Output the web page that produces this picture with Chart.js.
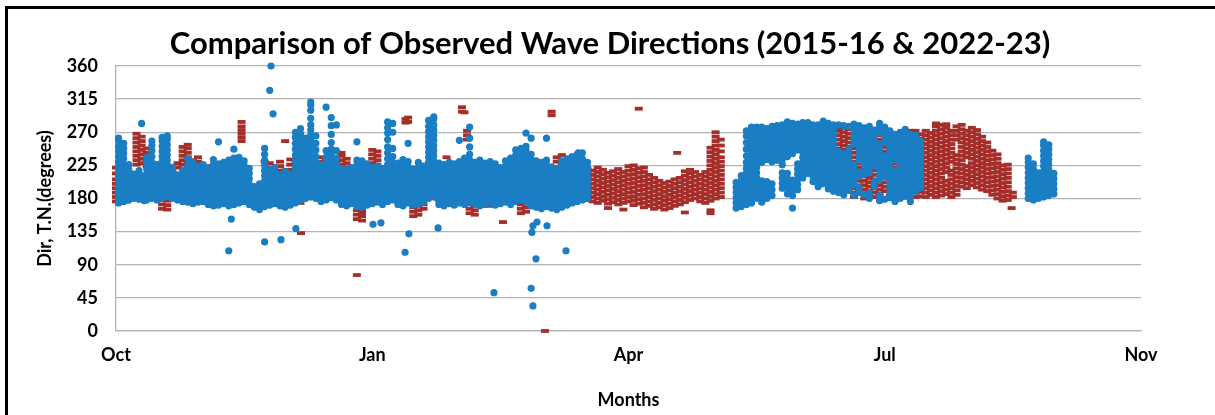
<!DOCTYPE html>
<html>
<head>
<meta charset="utf-8">
<title>Comparison of Observed Wave Directions</title>
<script src="https://cdn.jsdelivr.net/npm/chart.js@4.4.1/dist/chart.umd.min.js"></script>
<style>
  html, body { margin: 0; padding: 0; background: #ffffff; }
  #wrap { position: relative; width: 1215px; height: 415px; overflow: hidden; }
  #frame { position: absolute; left: 5px; top: 6px; right: -10px; bottom: -10px;
           border-top: 3px solid #000; border-left: 3px solid #000; pointer-events: none; }
</style>
</head>
<body>
<div id="wrap">
  <canvas id="chart" width="1215" height="415"></canvas>
  <div id="frame"></div>
</div>
<script>
// Wave direction observations (degrees True North).
// x = day of the season counted from the start of October, y = direction.
// Each column entry is [day, dir, dir, ...].

const TITLE = 'Comparison of Observed Wave Directions (2015-16 & 2022-23)';
const monthTicks = ['Oct', 'Jan', 'Apr', 'Jul', 'Nov'];
const dirTicks = [0, 45, 90, 135, 180, 225, 270, 315, 360];

// ---- 2022-23 (blue) ----
const blueAutumn = [
  [1, 174,181,188,195,202,209,216,223,230,237,244,251,258,262],
  [3, 176,183,190,197,204,211,218,226,234,241,248,255],
  [5, 178,184,191,198,205,212,219,226],
  [7, 180,186,193,200,207,213],
  [9, 179,185,192,199,206,212,218],
  [11, 177,184,191,198,205,211],
  [12, 178,185,192,199,206,213,220,228,236],
  [14, 180,186,193,200,207,214,221,229,237,245,252,258],
  [16, 178,184,191,198,205,212,219,226],
  [18, 181,188,195,202,209,216,223,230,237,244,251,258,263],
  [20, 183,190,197,204,211,218,225,232,239,246,253,260,265],
  [22, 180,187,194,201,208,215,222],
  [24, 178,185,192,199,206,212],
  [26, 176,183,190,197,204,211,218],
  [28, 175,182,189,196,203,210,217,225,234],
  [30, 173,180,187,194,201,208,215,222,229],
  [32, 175,182,189,196,203,210,217,224],
  [34, 176,183,190,197,204,211,218,226],
  [36, 172,179,186,193,200,207,214,221],
  [38, 170,177,184,191,198,205,212,219,226,233],
  [40, 171,178,185,192,199,206,213,220,227,257],
  [42, 173,180,187,194,201,208,215,222,229],
  [44, 170,176,183,190,197,204,211,218,225,232],
  [46, 172,179,186,193,200,207,214,221,228,235,247],
  [48, 174,181,188,195,202,209,216,223,230,236],
  [50, 176,183,190,197,204,211,218,225,231],
  [52, 172,179,186,193,200,207,214,221],
  [54, 168,175,182,189,196],
  [56, 165,172,179,186,193,200],
  [58, 169,176,183,190,197,204,211,218,225,232,240,248],
  [60, 171,178,185,192,199,206,213,220],
  [62, 173,180,187,194,201,208,215,222],
  [64, 170,177,184,191,198,205,212],
  [66, 168,175,182,189,196,203,210,217],
  [68, 171,178,185,192,199,206,213],
  [70, 174,181,188,195,202,209,216,223,231,239,247,255,263,270],
  [72, 178,185,192,199,206,213,220,228,236,244,252,260,268,275],
  [74, 180,187,194,201,208,215,222,230,238,246,254,262],
  [76, 182,189,196,203,210,217,224,231,238,245,252,259,266,273,280,289,300,307,311],
  [78, 180,187,194,201,208,215,222,229,237,246,255,265],
  [80, 176,183,190,197,204,211,218,226],
  [82, 178,185,192,199,206,213,220,228,236,245,304],
  [84, 181,188,195,202,209,216,223,231,239,247,256,267,279,290],
  [86, 178,185,192,199,206,213,220,227,235,245,280],
  [88, 172,179,186,193,200,207,214,221],
  [90, 170,177,184,191,198,205,212,219],
  [92, 173,180,187,194,201,208,215,222],
  [94, 169,176,183,190,197,204,211,218,225,232,257],
  [96, 168,175,182,189,196,203,210,217,224,231],
  [98, 171,178,185,192,199,206,213,220,227],
  [100, 173,180,187,194,201,208,215,222],
  [102, 175,182,189,196,203,210,217,224],
  [104, 172,179,186,193,200,207,214,221],
  [106, 176,183,190,197,204,211,218,226,234,242,250,260,269,276,284],
  [108, 178,185,192,199,206,213,220,228,237,248,270,282],
  [110, 172,179,186,193,200,207,214,221,228],
  [112, 170,177,184,191,198,205,212,219,226,233],
  [114, 174,181,188,195,202,209,216,223,230,255],
  [116, 171,178,185,192,199,206,213,220],
  [118, 173,180,187,194,201,208,215,222,229],
  [120, 175,182,189,196,203,210,217,224],
  [122, 180,187,194,201,208,215,222,229,236,243,250,257,264,271,278,286],
  [124, 182,189,196,203,210,217,224,231,238,245,252,259,266,273,280,288,291],
  [126, 172,179,186,193,200,207,214,221,228],
  [128, 170,177,184,191,198,205,212,219,226],
  [130, 173,180,187,194,201,208,215,222,229],
  [132, 171,178,185,192,199,206,213,220,227],
  [134, 174,181,188,195,202,209,216,223,230,259],
  [136, 172,179,186,193,200,207,214,221,228,235],
  [138, 175,182,189,196,203,210,217,224,232,240,250,262,277],
  [140, 173,180,187,194,201,208,215,222,229],
  [142, 170,177,184,191,198,205,212,219,226,232],
  [144, 172,179,186,193,200,207,214,221,228],
  [146, 174,181,188,195,202,209,216,223,230],
  [148, 171,178,185,192,199,206,213,220,227],
  [150, 173,180,187,194,201,208,215,222],
  [152, 175,182,189,196,203,210,217,224,231],
  [154, 172,179,186,193,200,207,214,221,228,235],
  [156, 176,183,190,197,204,211,218,225,232,239,246],
  [158, 178,185,192,199,206,213,220,227,234,241,248],
  [160, 175,182,189,196,203,210,217,224,231,238,245,251,269],
  [162, 170,177,184,191,198,205,212,219,226,233,240,262],
  [164, 168,175,182,189,196,203,210,217,224,231],
  [166, 166,173,180,187,194,201,208,215,222,229],
  [168, 169,176,183,190,197,204,211,218,225,232,262],
  [170, 167,174,181,188,195,202,209,216,223],
  [172, 165,172,179,186,193,200,207,214,221],
  [174, 168,175,182,189,196,203,210,217,224,231],
  [176, 171,178,185,192,199,206,213,220,227,234],
  [178, 174,181,188,195,202,209,216,223,230,237],
  [180, 176,183,190,197,204,211,218,225,232,240],
  [182, 178,185,192,199,206,213,220,227,234,242],
  [184, 180,187,194,201,208,215,222,229]
];

const blueSummer = [
  [242, 167,174,181,188,195,202],
  [244, 169,176,183,190,197,204,211],
  [246, 172,179,186,193,200,207,214,221,229,238,247,256,265,272],
  [248, 174,181,188,195,202,209,216,223,230,237,244,251,258,265,272,277],
  [250, 180,187,194,201,208,215,222,229,236,243,250,257,264,271,277],
  [252, 175,183,190,197,204,229,236,243,250,257,264,271,277],
  [254, 180,188,196,203,233,240,247,254,261,268,275],
  [256, 184,192,200,230,237,244,251,258,265,272,278],
  [258, 232,239,246,253,260,267,274,279],
  [260, 194,201,208,215,226,233,240,247,254,261,268,275,280],
  [262, 186,193,200,207,214,237,244,251,258,265,272,279,284],
  [264, 167,184,191,198,205,241,248,255,262,269,276,282],
  [266, 192,199,206,213,220,227,246,253,260,267,274,281],
  [268, 208,215,222,229,236,243,250,257,264,271,278,283],
  [270, 214,221,228,235,242,249,256,263,270,277,283],
  [272, 203,210,217,224,231,238,245,252,259,266,273,280],
  [274, 196,203,210,217,224,231,238,245,252,259,266,273,280],
  [276, 200,207,214,221,228,235,242,249,256,263,270,277,285],
  [278, 193,200,207,214,221,228,235,242,249,256,263,270,277,282],
  [280, 190,197,204,211,218,225,232,239,246,253,260,267,274,280],
  [282, 188,195,202,209,216,223,230,237,244,280],
  [284, 185,192,199,206,213,220,227,234,241,279],
  [286, 191,198,205,212,219,226,233,240,247,278],
  [288, 184,198,205,212,219,226,254,261,268,275,281],
  [290, 188,195,210,216,232,239,246,253,260,267,274,279],
  [292, 185,213,220,227,234,241,248,255,262,269,276],
  [294, 180,187,215,222,229,236,243,250,257,264,271,278],
  [296, 196,203,224,231,238,245,252,259,266,273],
  [298, 177,184,205,212,219,226,233,240,247,254,270,277,282],
  [300, 179,210,217,224,231,238,256,263,270,277],
  [302, 181,188,195,202,209,216,223,230,237,244,251,258,265,272],
  [304, 176,183,190,197,204,211,218,232,239,246,253,260,267],
  [306, 180,187,194,201,208,215,222,229,236,243,250,257,264,270],
  [308, 183,190,197,204,211,218,225,232,239,246,253,260,267,274],
  [310, 176,183,190,197,204,211,218,225,232,239,246,253,260,267],
  [312, 190,197,204,211,218,225,232,239,246,253,260,266],
  [314, 195,202,209,216,223,230,237,244,251,258]
];

const blueLate = [
  [356, 180,187,194,201,208,215,222,229,235],
  [358, 178,185,192,199,206,213,220,227],
  [360, 180,187,194,201,208,215],
  [362, 182,189,196,203,210,217,224,231,238,245,252,257],
  [364, 184,191,198,205,212,219,226,233,240,247,253],
  [366, 186,193,200,207,214]
];

const blueStray = [
  [10, 282], [44, 109], [45, 152], [58, 121], [60, 327], [60.5, 360], [61.3, 295],
  [64.4, 124], [70.2, 139], [100.3, 145], [103.4, 147], [112.8, 107], [114.3, 132],
  [125.7, 140], [147.5, 52], [162, 58], [162.3, 134], [162.7, 143], [162.7, 34],
  [163.9, 98], [164.3, 148], [168.2, 143], [175.6, 109], [180.4, 242]
];

// ---- 2015-16 (red) ----
const redAutumn = [
  [0, 176,182,188,194,200,206,214,222],
  [2, 178,186,194,202,210,218],
  [4, 176,184,192,200,208],
  [8, 226,232,238,244,250,256,262,268],
  [10, 228,234,240,246,252,258,264],
  [12, 224,230,236,242,248],
  [14, 200,206,212,218,224],
  [18, 166,172,178,184,190,196,202,208,214,220,226],
  [20, 165,171,177,183,189,195,201,207,213,219,225],
  [22, 192,198,204,210,216,222],
  [24, 222,228],
  [26, 226,232,238,244,250],
  [28, 224,230,236,242,248,253],
  [30, 208,214,220,226,232],
  [32, 206,212,218,224,230,236],
  [34, 204,210,216,222],
  [36, 206,212,218,224],
  [38, 204,210,216,222],
  [40, 183,190,197,204,211,218],
  [43, 176,182],
  [46, 178],
  [48, 176],
  [49, 258,263,268,273,278,284],
  [52, 180],
  [56, 168,174,180],
  [58, 230],
  [60, 228],
  [64, 206,212,218,224,230],
  [66, 258,206,212,218],
  [68, 205,212,219,226,233],
  [70, 176,182,188,226,232],
  [72, 174,180,186],
  [74, 225,232],
  [80, 212,218,224,230,236],
  [82, 210,216,222,228,234],
  [84, 209,215,221,227,233],
  [86, 212,218,224,230,236,243],
  [88, 214,220,226,232,238,242],
  [90, 210,216,222,228,234],
  [92, 208,214,220],
  [94, 152,158,164],
  [96, 150,156,160,164],
  [100, 192,198,204,210,216,222,228,234,240,246],
  [102, 190,196,202,208,214,220,226,232,238,244],
  [104, 180,186],
  [113, 283,288],
  [114, 284,290],
  [116, 156,162,168],
  [118, 158,164,170],
  [120, 166,172],
  [126, 178],
  [129, 236],
  [135, 298,304],
  [136, 297],
  [137, 260,266,272],
  [138, 160,166,172,178],
  [140, 158,164,170,176],
  [142, 174,180],
  [144, 178,184,190],
  [146, 170,176,182,188],
  [148, 180,186,192],
  [151, 148],
  [154, 180],
  [158, 160,166,172,178,184,190,196],
  [160, 162,168,174,180,186,192,198],
  [170, 293,298],
  [172, 230,236],
  [174, 214,220,226,232,239],
  [176, 212,218,224,230],
  [178, 208,214,220,226],
  [180, 206,212,218],
  [182, 180,186,192,198,204,210,216],
  [184, 178,184,190,196,202,208,214,220]
];

const redSpring = [
  [186, 176,182,188,194,200,206,212,218],
  [188, 174,180,186,192,198,204,210,216,222],
  [190, 177,183,189,195,201,207,213,219],
  [192, 173,179,185,191,197,203,209,215],
  [194, 175,181,187,193,199,205,211,217],
  [196, 172,178,184,190,196,202,208,214,220],
  [198, 174,180,186,192,198,204,210,216],
  [200, 176,182,188,194,200,206,212,218,224],
  [202, 171,177,183,189,195,201,207,213,219,225],
  [204, 173,179,185,191,197,203,209,215,221],
  [206, 168,174,180,186,192,198,204,210,216,222],
  [208, 170,176,182,188,194,200,206,212],
  [210, 166,172,178,184,190,196,202,208],
  [212, 168,174,180,186,192,198,204],
  [214, 165,171,177,183,189,195,201],
  [216, 167,173,179,185,191,197,203],
  [218, 170,176,182,188,194,200,206],
  [220, 172,178,184,190,196,202,208],
  [222, 175,181,187,193,199,205,211,217],
  [224, 178,184,190,196,202,208,214,219],
  [226, 180,186,192,198,204,210,216],
  [228, 176,182,188,194,200,206,212],
  [230, 174,180,186,192,198,204,210,216],
  [232, 177,183,189,195,201,207,213,219,225,231,237,243,249],
  [234, 180,186,192,198,204,210,216,222,228,234,240,246,252,258,264,270],
  [236, 182,188,194,200,206,212,218,224,230,236,244,252,260]
];

const redSummer = [
  [282, 248,254,260,266,272,277],
  [284, 246,252,258,264,270,276],
  [286, 250,256,262,268,274],
  [288, 182,188,194,230,236,242,248],
  [290, 186,192,198,204,222,228],
  [292, 180,186,192,198,204,210],
  [294, 184,190,196,202,208,240,246],
  [296, 182,188,194,200,206,212,218],
  [298, 186,192,198,260,266],
  [300, 190,196,202,208,244,250],
  [302, 184,190,196,202,208,214,220,226,232,238,244,250,256,262,268],
  [304, 188,194,222,228],
  [306, 182,188,194,200,206,212,218,236,242,248,254,260,266],
  [308, 186,192,198,204,262,268],
  [310, 188,194,200,206,212,218,224,230,236,242,248,254,260,266,272],
  [312, 182,188,194,200,206,212,218,224,230,236,242,248,254,260,266,272],
  [314, 183,189,195,201,207,213,219,225,231,237,243,249,255,261,267],
  [316, 182,188,194,200,206,212,218,224,230,236,242,248,254,260,266,272],
  [318, 185,191,197,203,209,215,221,227,233,239,245,251,257,263,269],
  [320, 182,188,194,200,206,212,218,224,230,236,242,248,254,260,266,272,278,282],
  [322, 184,190,196,202,208,214,220,226,232,238,244,250,256,262,268,274,280],
  [324, 186,192,198,204,216,222,228,234,240,246,252,258,264,270,276,281],
  [326, 182,188,194,200,206,212,218,230,236,242,248,254,260,266,272],
  [328, 185,191,197,203,209,215,221,227,233,239,260,266,272,278],
  [330, 196,202,208,214,220,226,232,238,244,250,256,262,268,274,280],
  [332, 194,200,206,212,218,224,236,242,248,254,260,266,272],
  [334, 198,204,210,216,222,228,234,240,246,252,258,264,270,276],
  [336, 195,201,207,213,219,225,231,237,243,249,255,261,267,273],
  [338, 192,198,204,210,216,222,228,234,240,246,252,258,264],
  [340, 190,196,202,208,214,220,226,232,238,244,250,256],
  [342, 185,191,197,203,209,215,221,227,233,239,245],
  [344, 180,186,192,198,204,210,216,222,228,234,240],
  [346, 177,183,189,195,201,207,213,219,225],
  [348, 178,184,190,196,202,208,214,220,226],
  [350, 182,188]
];

const redStray = [
  [72.2, 133], [94, 76], [167.4, 0], [192, 167], [198, 165], [204, 302],
  [219, 242], [222, 161], [232, 164], [232, 160], [349.5, 167], [363, 187]
];

const BLUE = '#1a7ec4';
const RED = '#a52e2a';
const GRID = '#b3b3b3';
const INK = '#000000';

function toPoints(columns) {
  return columns.flatMap(([day, ...dirs]) => dirs.map(dir => ({ x: day, y: dir })));
}

const bluePoints = [blueAutumn, blueSummer, blueLate, blueStray].flatMap(toPoints);
const redPoints = [redAutumn, redSpring, redSummer, redStray].flatMap(toPoints);

// Main heading drawn above the plot area, centred on the figure.
const heading = {
  id: 'heading',
  afterDraw(chart) {
    const ctx = chart.ctx;
    ctx.save();
    ctx.font = 'bold 31px Lato';
    ctx.fillStyle = INK;
    ctx.textAlign = 'center';
    ctx.textBaseline = 'middle';
    ctx.fillText(TITLE, 610, 44);
    ctx.restore();
  }
};

const axisFont = { family: 'Lato', size: 18, weight: 'bold' };

new Chart(document.getElementById('chart'), {
  type: 'scatter',
  data: {
    datasets: [
      {
        label: '2022-23',
        data: bluePoints,
        pointStyle: 'circle',
        pointRadius: 3.6,
        pointBorderWidth: 0,
        backgroundColor: BLUE,
        borderColor: BLUE,
        clip: false
      },
      {
        label: '2015-16',
        data: redPoints,
        pointStyle: 'line',
        pointRadius: 4,
        pointBorderWidth: 3.8,
        backgroundColor: RED,
        borderColor: RED,
        clip: false
      }
    ]
  },
  options: {
    responsive: false,
    animation: false,
    devicePixelRatio: 1,
    layout: { padding: { top: 66, left: 28, right: 74, bottom: 4 } },
    plugins: {
      legend: { display: false },
      tooltip: { enabled: false },
      title: { display: false }
    },
    scales: {
      x: {
        type: 'linear',
        min: 0,
        max: 400,
        afterFit(scale) { scale.height = 80; },
        afterBuildTicks(scale) {
          scale.ticks = monthTicks.map((_, i) => ({ value: i * 100 }));
        },
        ticks: {
          color: INK,
          font: axisFont,
          padding: 13,
          maxRotation: 0,
          callback: (v) => monthTicks[Math.round(v / 100)]
        },
        grid: { display: false, drawTicks: false },
        border: { display: true, color: GRID, width: 1.3 },
        title: {
          display: true,
          text: 'Months',
          color: INK,
          font: axisFont,
          padding: { top: 0, bottom: 0 }
        }
      },
      y: {
        type: 'linear',
        min: 0,
        max: 360,
        afterFit(scale) { scale.width = 88; },
        afterBuildTicks(scale) {
          scale.ticks = dirTicks.map(v => ({ value: v }));
        },
        ticks: { color: INK, font: axisFont, padding: 18 },
        grid: { color: GRID, lineWidth: 1.3, drawTicks: false },
        border: { display: true, color: GRID, width: 1.3 },
        title: {
          display: true,
          text: 'Dir, T.N.(degrees)',
          color: INK,
          font: axisFont,
          padding: { top: 6, bottom: 0 }
        }
      }
    }
  },
  plugins: [heading]
});
</script>
</body>
</html>
